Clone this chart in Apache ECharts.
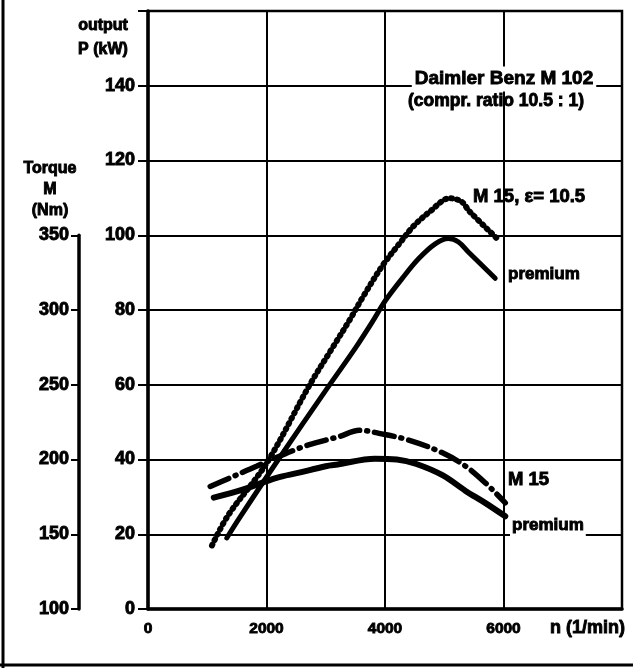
<!DOCTYPE html>
<html><head><meta charset="utf-8">
<script src="https://cdn.jsdelivr.net/npm/echarts@6/dist/echarts.min.js"></script>
<style>html,body{margin:0;padding:0;background:#fff}#c{width:633px;height:668px}</style>
</head><body><div id="c"></div>
<script>
// Output P (kW) vs engine speed n (1/min)
const m15PowerRpm = [1080,1350,2000,2730,3125,3406,3631,3968,4250,4474,4755,5093,5290,5430,5900];
const m15PowerKw  = [17,25,39,60,70.2,77.4,83.6,92.1,97.9,102.3,106.3,109.9,109,106.3,99];
const premPowerRpm = [1330,1550,2200,3000,3508,3786,4010,4288,4566,4848,5070,5240,5407,5860];
const premPowerKw  = [19,24.5,40,58.5,70.0,76.8,82.6,88.4,93.7,97.7,99.1,98.2,95.5,88.5];
// Torque M (Nm) vs engine speed
const m15TorqueRpm = [1050,1400,1830,2580,3000,3200,3590,3900,4400,4970,5360,5690,6030];
const m15TorqueNm  = [182,188,195.5,208,213,215,219.5,217.5,213,204.5,195.5,184.5,171];
const premTorqueRpm = [1110,1610,2170,2530,3000,3200,3830,4200,4530,4970,5360,5690,6030];
const premTorqueNm  = [174.5,180,187.7,191,195.5,196.7,200.5,200,197,189.5,179,171,162];
// tick labels
const rpmTickLabels = ['0','2000','4000','6000'];
const powerTickLabels = ['0','20','40','60','80','100','120','140'];
const torqueTickLabels = ['100','150','200','250','300','350'];

const zip = (a, b) => a.map((v, i) => [v, b[i]]);
const FONT = 'Liberation Sans, Arial, sans-serif';
const chart = echarts.init(document.getElementById('c'));
const bold = (size) => ({color:'#000', fontWeight:'bold', fontFamily:FONT, fontSize:size,
  textBorderColor:'#000', textBorderWidth:0.9});
const gtext = (text, x, y, size, align, extra) => ({type:'text', z:100,
  style:Object.assign({text:text, x:x, y:y, textAlign:align, textVerticalAlign:'middle',
    font:'bold '+size+'px '+FONT, fill:'#000', stroke:'#000', lineWidth:0.9}, extra || {})});

chart.setOption({
  animation:false,
  backgroundColor:'#fff',
  grid:[
    {left:148, right:11, top:11, bottom:59, show:true, borderColor:'#000', borderWidth:2.5, backgroundColor:'transparent'},
    {left:79, width:1, top:235.25, bottom:59}
  ],
  xAxis:[
    {type:'value', gridIndex:0, min:0, max:8000, interval:2000,
     axisLine:{lineStyle:{color:'#000', width:3.5}}, axisTick:{show:false},
     splitLine:{lineStyle:{color:'#000', width:2}},
     axisLabel:Object.assign(bold(15.5), {margin:12, formatter:(v)=>rpmTickLabels[v/2000] || ''}),
     name:'n (1/min)', nameLocation:'end', nameGap:3,
     nameTextStyle:Object.assign(bold(18), {align:'right', verticalAlign:'top', padding:[10,0,0,0]})},
    {type:'value', gridIndex:1, min:0, max:1, show:false}
  ],
  yAxis:[
    {type:'value', gridIndex:0, min:0, max:160, interval:20, position:'left',
     axisLine:{lineStyle:{color:'#000', width:3.5}},
     axisTick:{show:true, length:10, lineStyle:{color:'#000', width:2}},
     splitLine:{lineStyle:{color:'#000', width:2}},
     axisLabel:Object.assign(bold(18), {margin:13, formatter:(v)=>powerTickLabels[v/20] || ''}),
     name:'output\nP (kW)', nameLocation:'end', nameGap:-3,
     nameTextStyle:Object.assign(bold(16), {align:'center', verticalAlign:'top', lineHeight:24, padding:[0,90,0,0]})},
    {type:'value', gridIndex:0, min:100, max:500, show:false},
    {type:'value', gridIndex:1, min:100, max:350, interval:50, position:'left',
     axisLine:{lineStyle:{color:'#000', width:3.5}},
     axisTick:{show:true, length:8, lineStyle:{color:'#000', width:2}},
     splitLine:{show:false},
     axisLabel:Object.assign(bold(18), {margin:10, formatter:(v)=>torqueTickLabels[(v-100)/50] || ''}),
     name:'Torque\nM\n(Nm)', nameLocation:'end', nameGap:14,
     nameTextStyle:Object.assign(bold(16), {align:'center', verticalAlign:'bottom', lineHeight:21, padding:[0,58,0,0]})}
  ],
  series:[
    {name:'M 15, ε = 10.5 output', type:'line', xAxisIndex:0, yAxisIndex:0, smooth:0.35, showSymbol:false,
     data:zip(m15PowerRpm, m15PowerKw),
     lineStyle:{color:'#000', width:6, type:[1,5], cap:'round'}},
    {name:'premium output', type:'line', xAxisIndex:0, yAxisIndex:0, smooth:0.35, showSymbol:false,
     data:zip(premPowerRpm, premPowerKw),
     lineStyle:{color:'#000', width:5, cap:'round'}},
    {name:'M 15 torque', type:'line', xAxisIndex:0, yAxisIndex:1, smooth:0.35, showSymbol:false,
     data:zip(m15TorqueRpm, m15TorqueNm),
     lineStyle:{color:'#000', width:5.5, type:[20,7,1,7], cap:'round'}},
    {name:'premium torque', type:'line', xAxisIndex:0, yAxisIndex:1, smooth:0.35, showSymbol:false,
     data:zip(premTorqueRpm, premTorqueNm),
     lineStyle:{color:'#000', width:6, cap:'round'}}
  ],
  graphic:[
    {type:'line', shape:{x1:3, y1:0, x2:3, y2:668}, style:{stroke:'#000', lineWidth:3}},
    {type:'line', shape:{x1:0, y1:665, x2:633, y2:665}, style:{stroke:'#000', lineWidth:3}},
    gtext('Daimler Benz M 102', 504, 79, 19, 'center', {backgroundColor:'#fff', padding:[3,3]}),
    gtext('(compr. ratio 10.5 : 1)', 496, 101, 17.5, 'center'),
    gtext('M 15, ε= 10.5', 473, 197, 18.5, 'left'),
    gtext('premium', 508, 274, 17, 'left'),
    gtext('M 15', 508, 480, 18.5, 'left'),
    gtext('premium', 510, 525, 17, 'left', {backgroundColor:'#fff', padding:[3,2]})
  ]
});
</script></body></html>
